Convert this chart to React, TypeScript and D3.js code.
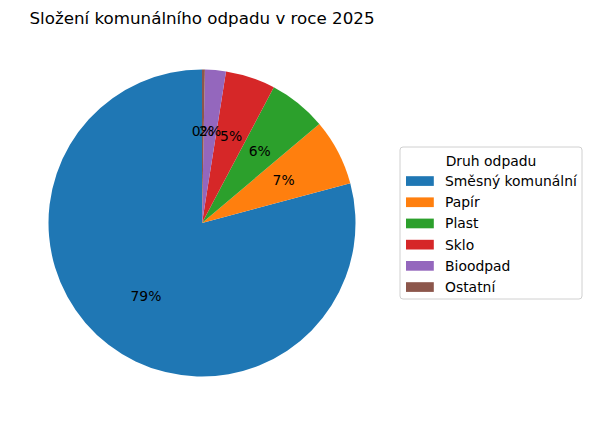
import React from 'react';
import * as d3 from 'd3';

const categories = ['Směsný komunální', 'Papír', 'Plast', 'Sklo', 'Bioodpad', 'Ostatní'];
const shares = [79.2, 7.0, 6.1, 5.25, 2.2, 0.3];
const colors = ['#1f77b4', '#ff7f0e', '#2ca02c', '#d62728', '#9467bd', '#8c564b'];
const title = 'Složení komunálního odpadu v roce 2025';
const legendTitle = 'Druh odpadu';

const W = 591;
const H = 425;
const cx = 202;
const cy = 223;
const R = 153.5;

const App: React.FC = () => {
  // matplotlib style: start at top, go counterclockwise
  const pie = d3
    .pie<number>()
    .sort(null)
    .startAngle(0)
    .endAngle(-2 * Math.PI);
  const arcs = pie(shares);
  const arc = d3.arc<d3.PieArcDatum<number>>().innerRadius(0).outerRadius(R);
  const labelArc = d3.arc<d3.PieArcDatum<number>>().innerRadius(R * 0.6).outerRadius(R * 0.6);
  const total = d3.sum(shares);

  const legendX = 400;
  const legendY = 147;
  const rowY = d3.scaleLinear().domain([0, 1]).range([181, 202.2]);

  return (
    <svg
      width={W}
      height={H}
      style={{ position: 'absolute', left: 0, top: 0, fontFamily: 'DejaVu Sans, sans-serif' }}
    >
      <rect width={W} height={H} fill="#fff" />
      <text x={202} y={24} textAnchor="middle" fontSize={16.7} fill="#000">
        {title}
      </text>
      <g transform={`translate(${cx},${cy})`}>
        {arcs.map((a, i) => (
          <path key={i} d={arc(a) ?? ''} fill={colors[i]} />
        ))}
        {arcs.map((a, i) => {
          const [x, y] = labelArc.centroid(a);
          return (
            <text
              key={'l' + i}
              x={x}
              y={y}
              textAnchor="middle"
              dominantBaseline="central"
              fontSize={13.9}
              fill="#000"
            >
              {`${Math.round((a.data / total) * 100)}%`}
            </text>
          );
        })}
      </g>
      <g>
        <rect
          x={legendX}
          y={legendY}
          width={182}
          height={152}
          rx={3}
          fill="#fff"
          fillOpacity={0.8}
          stroke="#d0d0d0"
        />
        <text x={491} y={160.5} textAnchor="middle" dominantBaseline="central" fontSize={13.9}>
          {legendTitle}
        </text>
        {categories.map((c, i) => (
          <g key={c}>
            <rect x={406} y={rowY(i) - 4.8} width={27.8} height={9.7} fill={colors[i]} />
            <text x={445} y={rowY(i)} dominantBaseline="central" fontSize={13.9}>
              {c}
            </text>
          </g>
        ))}
      </g>
    </svg>
  );
};

export default App;
